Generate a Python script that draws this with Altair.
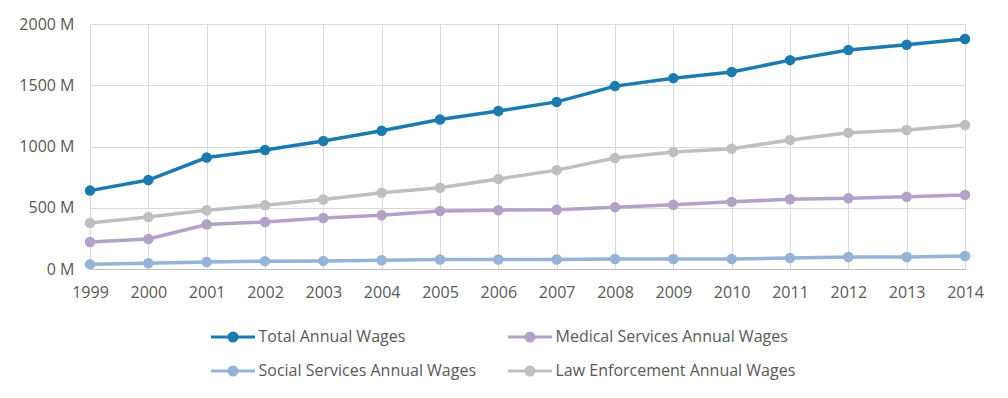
import altair as alt
import pandas as pd

years = list(range(1999, 2015))
series_names = [
    "Total Annual Wages",
    "Social Services Annual Wages",
    "Medical Services Annual Wages",
    "Law Enforcement Annual Wages",
]
total = [640, 726, 910, 971, 1045, 1129, 1220, 1290, 1364, 1493, 1558, 1608, 1705, 1787, 1830, 1877]
social = [38, 47, 57, 64, 66, 71, 77, 77, 77, 82, 82, 82, 90, 98, 98, 106]
medical = [221, 245, 363, 384, 417, 439, 474, 480, 484, 505, 524, 548, 570, 578, 589, 605]
law = [376, 425, 480, 521, 568, 622, 663, 734, 807, 906, 955, 982, 1053, 1113, 1135, 1176]
colors = ["#1B7BAF", "#95B3D7", "#B3A2C8", "#BFBFBF"]
y_ticks = [0, 500, 1000, 1500, 2000]

rows = []
for name, vals in zip(series_names, [total, social, medical, law]):
    for yr, v in zip(years, vals):
        rows.append({"year": yr, "series": name, "value": v})
df = pd.DataFrame(rows)

FONT = "Open Sans"
TXT = "#595959"

sym = ("M-1.333,0L1.333,0 M-0.242,0A0.242,0.242,0,1,1,0.242,0A0.242,0.242,0,1,1,-0.242,0 "
       "M-0.09,0A0.09,0.09,0,1,1,0.09,0A0.09,0.09,0,1,1,-0.09,0")

color = alt.Color(
    "series:N",
    scale=alt.Scale(domain=series_names, range=colors),
    sort=series_names,
    legend=alt.Legend(
        title=None,
        orient="none",
        legendX=125,
        legendY=295,
        columns=2,
        columnPadding=25,
        rowPadding=6,
        symbolType=sym,
        symbolSize=1089,
        symbolStrokeWidth=3,
        labelFont=FONT,
        labelFontSize=16,
        labelColor=TXT,
        labelOffset=7.5,
        labelLimit=400,
    ),
)

x = alt.X(
    "year:Q",
    scale=alt.Scale(domain=[1999, 2014], nice=False, zero=False),
    axis=alt.Axis(
        values=years,
        format="d",
        title=None,
        grid=True,
        gridColor="#D9D9D9",
        ticks=False,
        domainColor="#BFBFBF",
        domainWidth=1,
        labelFont=FONT,
        labelFontSize=16,
        labelColor=TXT,
        labelPadding=15,
        labelFlush=False,
    ),
)
y = alt.Y(
    "value:Q",
    scale=alt.Scale(domain=[0, 2000], nice=False),
    axis=alt.Axis(
        values=y_ticks,
        labelExpr="datum.value + ' M'",
        title=None,
        grid=True,
        gridColor="#D9D9D9",
        ticks=False,
        domain=False,
        labelFont=FONT,
        labelFontSize=16,
        labelColor=TXT,
        labelPadding=16,
    ),
)

chart = (
    alt.Chart(df)
    .mark_line(
        strokeWidth=3.5,
        point=alt.OverlayMarkDef(filled=True, size=110, opacity=1),
    )
    .encode(x=x, y=y, color=color, order=alt.Order("year:Q"))
    .properties(
        width=875,
        height=245,
        autosize=alt.AutoSizeParams(type="none"),
        padding={"left": 82, "top": 16, "right": 35, "bottom": 116},
    )
    .configure_view(stroke=None)
    .configure(background="white")
)

chart.save("out.html", embed_options={"renderer": "svg", "actions": False})
